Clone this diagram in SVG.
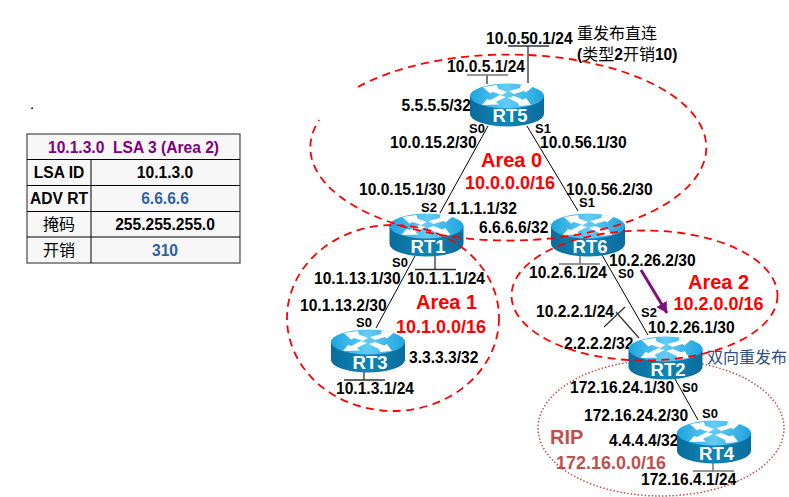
<svg xmlns="http://www.w3.org/2000/svg" width="789" height="497" viewBox="0 0 789 497">
<style>
text{font-family:"Liberation Sans","Noto Sans CJK SC",sans-serif;fill:#000}
.l{font-size:15.6px;font-weight:700}
.s{font-size:13px;font-weight:700}
.c{font-size:16px;font-weight:400;font-family:"Noto Sans CJK SC","Liberation Sans",sans-serif}
.a{font-size:20px;font-weight:700;fill:#f00}
.n{font-size:18px;font-weight:700;fill:#f00}
.rip{fill:#c0504d}
.m{text-anchor:middle}
.rn{font-size:18.500px;font-weight:700;fill:#fff;text-anchor:middle}
.link{stroke:#000;stroke-width:1;fill:none}
.stub{stroke:#333;stroke-width:1.3;fill:none}
.stubg{stroke:#777;stroke-width:1.5;fill:none}
.area{fill:none;stroke:#f00;stroke-width:1.8;stroke-dasharray:8 5.500}
.grid{stroke:#000;stroke-width:1;fill:none}
</style>
<defs>
<linearGradient id="body" x1="0" x2="1" y1="0" y2="0"><stop offset="0" stop-color="#0a6c9c"/><stop offset=".5" stop-color="#0f86b6"/><stop offset="1" stop-color="#0a6c9c"/></linearGradient>
<linearGradient id="top" x1="0" x2="1" y1="0" y2="0"><stop offset="0" stop-color="#1ea4de"/><stop offset=".5" stop-color="#62ccf7"/><stop offset="1" stop-color="#1ea4de"/></linearGradient>
<g id="router">
<path d="M-37,0V18A37,12.5 0 0 0 37,18V0Z" fill="url(#body)"/>
<ellipse rx="37" ry="12.5" fill="url(#top)"/>
<path d="M-24,-9L-10,-11L-9,-7.5L0,-4L-5,-1L-14,-4L-17,-2.500Z M26,-9.500L14,-11.500L13,-8L2,-5L7,-2L17,-5L19,-3.500Z M-25,9L-20,3L-17,4L-7,-1L-1,1L-11,6L-8,8.500Z M24,9L12,10L11,7L1,2L7,0L16,3.500L19,2Z" fill="#fff"/>
</g>
<marker id="ah" markerWidth="4" markerHeight="4" refX="3.500" refY="2" orient="auto" markerUnits="strokeWidth"><path d="M0,0L3.500,2L0,4Z" fill="#7f0f7f"/></marker>
</defs>
<rect width="789" height="497" fill="#fff"/>
<text x="30.500" y="109" style="font-size:11px;font-weight:700">.</text>

<g id="table">
<rect x="27" y="134" width="213" height="129" fill="#f7f7f7" stroke="#555" stroke-width="1.3"/>
<path class="grid" d="M27,159.500H240M27,185.500H240M27,211.500H240M27,237H240M91,159.500V263"/>
<text class="l m" x="133.500" y="153" style="fill:#800080" xml:space="preserve">10.1.3.0  LSA 3 (Area 2)</text>
<text class="l m" x="59" y="178">LSA ID</text>
<text class="l m" x="165" y="178">10.1.3.0</text>
<text class="l m" x="59" y="204">ADV RT</text>
<text class="l m" x="165" y="204" style="fill:#2f5f9f">6.6.6.6</text>
<text class="c m" x="59" y="230">掩码</text>
<text class="l m" x="165" y="230">255.255.255.0</text>
<text class="c m" x="59" y="256">开销</text>
<text class="l m" x="165" y="256" style="fill:#2f5f9f">310</text>
</g>

<ellipse id="area-rip" cx="661" cy="428" rx="123" ry="68" fill="none" stroke="#c0504d" stroke-width="1.5" stroke-dasharray="1.500 2"/>

<g id="labels">
<text class="l" x="486" y="44">10.0.50.1/24</text>
<text class="c" x="577" y="39">重发布直连</text>
<text class="l" x="577" y="60">(<tspan class="c">类型</tspan>2<tspan class="c">开销</tspan>10)</text>
<text class="l" x="447" y="72">10.0.5.1/24</text>
<text class="l" x="401.500" y="111">5.5.5.5/32</text>
<text class="s" x="469" y="132.500">S0</text>
<text class="s" x="535" y="132.500">S1</text>
<text class="l" x="390" y="148">10.0.15.2/30</text>
<text class="l" x="540" y="148">10.0.56.1/30</text>
<text class="a" x="481" y="167">Area 0</text>
<text class="n" x="465" y="189">10.0.0.0/16</text>
<text class="l" x="359" y="195">10.0.15.1/30</text>
<text class="l" x="566" y="195">10.0.56.2/30</text>
<text class="s" x="421" y="212">S2</text>
<text class="l" x="447.500" y="214">1.1.1.1/32</text>
<text class="s" x="579" y="207">S1</text>
<text class="l" x="479" y="233">6.6.6.6/32</text>
<text class="s" x="392" y="267">S0</text>
<text class="l" x="314" y="284">10.1.13.1/30</text>
<text class="l" x="407" y="284">10.1.1.1/24</text>
<text class="l" x="300" y="310.500">10.1.13.2/30</text>
<text class="a" x="416" y="309">Area 1</text>
<text class="s" x="356" y="327">S0</text>
<text class="n" x="396" y="332.500">10.1.0.0/16</text>
<text class="l" x="409" y="362.500">3.3.3.3/32</text>
<text class="l" x="336" y="394">10.1.3.1/24</text>
<text class="l" x="609" y="266">10.2.26.2/30</text>
<text class="s" x="618" y="278">S0</text>
<text class="l" x="529" y="278">10.2.6.1/24</text>
<text class="a" x="688" y="289">Area 2</text>
<text class="n" x="673.500" y="310">10.2.0.0/16</text>
<text class="l" x="536" y="316.500">10.2.2.1/24</text>
<text class="s" x="641" y="317">S2</text>
<text class="l" x="648" y="332.500">10.2.26.1/30</text>
<text class="l" x="564" y="349">2.2.2.2/32</text>
<text class="c" x="707" y="362.500" style="fill:#2f4f7f">双向重发布</text>
<text class="l" x="570" y="393">172.16.24.1/30</text>
<text class="s" x="682" y="392">S0</text>
<text class="l" x="584" y="420.500">172.16.24.2/30</text>
<text class="s" x="702" y="417.500">S0</text>
<text class="a rip" x="550" y="444">RIP</text>
<text class="n rip" x="556" y="468.500">172.16.0.0/16</text>
<text class="l" x="609" y="446">4.4.4.4/32</text>
<text class="l" x="641" y="485">172.16.4.1/24</text>
</g>

<g id="connectors">
<path class="link" d="M488,126L440,213M527,126L578,211M415,256L376,328M602,255L648,335M675,379L698,420"/>
<path class="stub" d="M508,46H549M528,46V83M487,75V84M435,256V269.500M415,269.500H456M364,372V380M344,380H385M616,312L639,338M604,327L625,307"/>
<path class="stubg" d="M467,75H508M580,255V264M559,264H600M713,463V471M693,471H734"/>
<path d="M641,270L667,313" fill="none" stroke="#7f0f7f" stroke-width="3" marker-end="url(#ah)"/>
</g>

<g id="RT5"><use href="#router" x="507" y="96"/><text class="rn" x="510" y="122">RT5</text></g>
<g id="RT1"><use href="#router" x="426.500" y="226"/><text class="rn" x="428" y="252.500">RT1</text></g>
<g id="RT6"><use href="#router" x="588" y="226"/><text class="rn" x="590" y="252.500">RT6</text></g>
<g id="RT3"><use href="#router" x="368" y="342"/><text class="rn" x="370" y="368.500">RT3</text></g>
<g id="RT2"><use href="#router" x="665.500" y="349"/><text class="rn" x="668" y="375.500">RT2</text></g>
<g id="RT4"><use href="#router" x="714" y="433"/><text class="rn" x="716.500" y="459.500">RT4</text></g>

<g id="areas">
<path class="area" d="M358,87A198,93 0 1 1 319.200,120"/>
<ellipse class="area" cx="393" cy="318" rx="106" ry="93"/>
<ellipse class="area" cx="644.500" cy="295.500" rx="133" ry="65"/>
</g>
</svg>
